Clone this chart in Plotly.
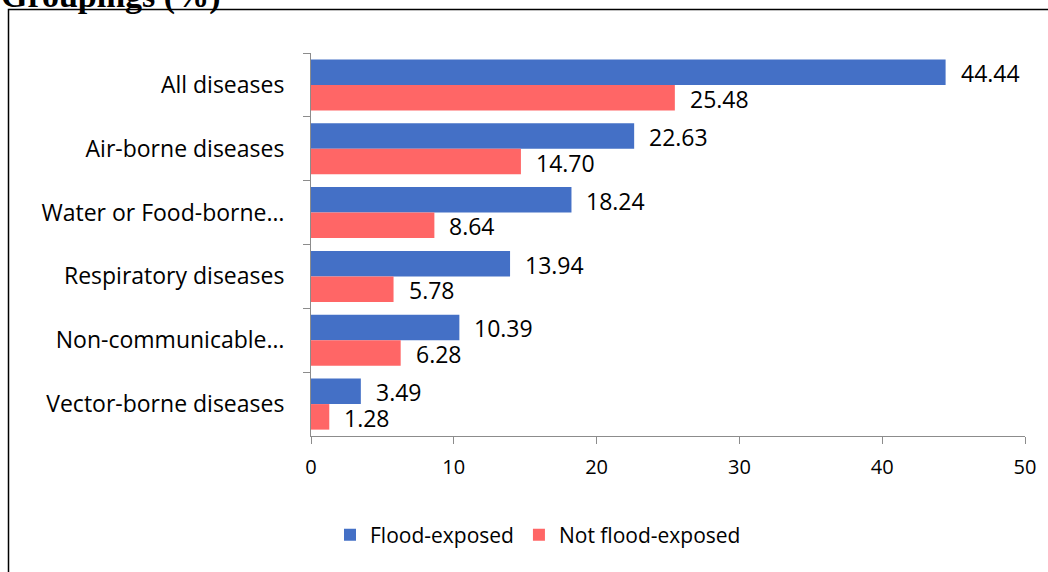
import plotly.graph_objects as go

# Disease groupings and prevalence (%) by flood exposure
categories = [
    "All diseases",
    "Air-borne diseases",
    "Water or Food-borne…",
    "Respiratory diseases",
    "Non-communicable…",
    "Vector-borne diseases",
]
flood_exposed = [44.44, 22.63, 18.24, 13.94, 10.39, 3.49]
not_flood_exposed = [25.48, 14.70, 8.64, 5.78, 6.28, 1.28]
x_ticks = [0, 10, 20, 30, 40, 50]

BLUE = "#4470c6"
RED = "#ff6666"
FONT = "Open Sans"

W, H = 1048, 572
L, R, T, B = 311, 23, 53, 136
pw, ph = W - L - R, H - T - B


def px_x(p):
    return (p - L) / pw


def px_y(p):
    return 1 - (p - T) / ph


fig = go.Figure()
fig.add_trace(go.Bar(
    y=categories, x=flood_exposed, orientation="h", name="Flood-exposed",
    marker=dict(color=BLUE, line=dict(width=0)),
))
fig.add_trace(go.Bar(
    y=categories, x=not_flood_exposed, orientation="h", name="Not flood-exposed",
    marker=dict(color=RED, line=dict(width=0)),
))

# value labels just past the end of each bar
band = ph / len(categories)
half = band * (1 - 0.2) / 4
for vals, shift in ((flood_exposed, half), (not_flood_exposed, -half)):
    for cat, v in zip(categories, vals):
        fig.add_annotation(
            x=v, y=cat, text=f"{v:.2f}", showarrow=False,
            xanchor="left", yanchor="middle", xshift=13, yshift=shift - 1,
            font=dict(family=FONT, size=23, color="#000000"),
        )

# cut-off heading above the frame
fig.add_annotation(
    xref="paper", yref="paper", x=px_x(-1), y=px_y(17),
    text="<b>Groupings (%)</b>", showarrow=False,
    xanchor="left", yanchor="bottom",
    font=dict(family="Liberation Serif", size=34, color="#000000"),
)

# chart frame
fig.add_shape(
    type="rect", xref="paper", yref="paper",
    x0=px_x(8.5), x1=px_x(1060), y0=px_y(9.5), y1=px_y(590),
    line=dict(color="#000000", width=1.5), fillcolor="rgba(0,0,0,0)",
)

fig.update_layout(
    width=W, height=H,
    margin=dict(l=L, r=R, t=T, b=B),
    paper_bgcolor="white", plot_bgcolor="white",
    barmode="group", bargap=0.2, bargroupgap=0,
    font=dict(family=FONT, size=21, color="#000000"),
    showlegend=True,
    legend=dict(
        orientation="h", x=px_x(538), xanchor="center",
        y=px_y(535), yanchor="middle",
        font=dict(family=FONT, size=21), traceorder="normal",
        itemwidth=30,
    ),
    xaxis=dict(
        range=[0, 50], tickvals=x_ticks, showgrid=False, zeroline=False,
        showline=True, linecolor="#8c8c8c", linewidth=1,
        ticks="outside", ticklen=7, tickcolor="#8c8c8c",
        ticklabelstandoff=6, tickfont=dict(size=20),
    ),
    yaxis=dict(
        autorange="reversed", showgrid=False, zeroline=False,
        showline=True, linecolor="#8c8c8c", linewidth=1,
        ticks="outside", ticklen=7, tickcolor="#8c8c8c",
        tickson="boundaries", ticklabelstandoff=21,
        tickfont=dict(size=23),
    ),
)

fig.write_html("out.html")
